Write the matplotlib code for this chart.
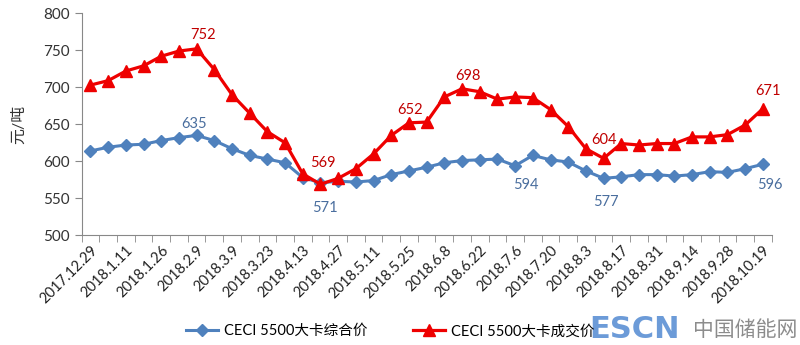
import matplotlib.pyplot as plt
import numpy as np

plt.rcParams['font.family'] = ['Lato', 'Noto Sans CJK SC', 'DejaVu Sans']

# weekly CECI 5500 kcal coal price index, 元/吨
tick_labels = ['2017.12.29', '2018.1.11', '2018.1.26', '2018.2.9', '2018.3.9',
               '2018.3.23', '2018.4.13', '2018.4.27', '2018.5.11', '2018.5.25',
               '2018.6.8', '2018.6.22', '2018.7.6', '2018.7.20', '2018.8.3',
               '2018.8.17', '2018.8.31', '2018.9.14', '2018.9.28', '2018.10.19']
composite = [614, 619, 622, 623, 628, 632, 635, 628, 617, 608, 603, 598, 578,
             571, 573, 572, 574, 582, 587, 592, 598, 601, 602, 603, 594, 608,
             602, 599, 587, 577, 579, 582, 582, 580, 582, 586, 585, 590, 596]
deal = [703, 709, 722, 729, 742, 749, 752, 724, 690, 665, 640, 625, 583,
        569, 577, 590, 610, 635, 652, 653, 687, 698, 694, 684, 687, 686,
        670, 647, 617, 604, 624, 622, 624, 624, 633, 633, 636, 649, 671]

# labelled points: (index, x offset, y offset) in points
deal_notes = [(6, 5, 10), (13, 2, 15), (18, 1, 9), (21, 4, 9), (29, 0, 13), (38, 4, 13)]
comp_notes = [(6, -2, 8), (13, 3, -18), (24, 8, -14), (29, 2, -17), (38, 5, -15)]

blue = '#4F81BD'
red = '#EE0000'

fig = plt.figure(figsize=(8, 3.45), dpi=100)
ax = fig.add_axes([0.102, 0.318, 0.8626, 0.6434])

x = np.arange(len(deal))
ax.plot(x, composite, color=blue, lw=2.2, marker='D', ms=6.5,
        label='CECI 5500大卡综合价')
ax.plot(x, deal, color=red, lw=2.3, marker='^', ms=9,
        label='CECI 5500大卡成交价')

for i, dx, dy in deal_notes:
    ax.annotate(str(deal[i]), (x[i], deal[i]), xytext=(dx, dy),
                textcoords='offset points', ha='center', va='center',
                fontsize=10.5, color='#C00000')
for i, dx, dy in comp_notes:
    ax.annotate(str(composite[i]), (x[i], composite[i]), xytext=(dx, dy),
                textcoords='offset points', ha='center', va='center',
                fontsize=10.5, color='#4A6E9E')

ax.set_xlim(-0.5, len(deal) - 0.5)
ax.set_ylim(500, 800)
ax.set_yticks(np.arange(500, 801, 50))
ax.set_xticks(x[::2])
ax.set_xticklabels(tick_labels, rotation=45, ha='right', rotation_mode='anchor')
ax.set_xticks(np.arange(-0.5, len(deal)), minor=True)
ax.tick_params(axis='x', which='major', length=0, pad=6, labelsize=10.5, labelcolor='#222222')
ax.tick_params(axis='x', which='minor', length=5, color='#888888')
ax.tick_params(axis='y', length=5, color='#888888', labelsize=11, labelcolor='#333333')
for side in ['top', 'right']:
    ax.spines[side].set_visible(False)
for side in ['left', 'bottom']:
    ax.spines[side].set_color('#888888')

ax.set_ylabel('元/吨', fontsize=11.5, color='#333333', labelpad=12)

fig.legend(loc='center', bbox_to_anchor=(0.4875, 0.04), ncol=2, frameon=False,
           fontsize=10.5, columnspacing=3.1, handlelength=2.2, handletextpad=0.4)

# site watermark
fig.text(0.737, 0.045, 'ESCN', fontsize=22, fontweight='bold', color='#6C9BD8',
         va='center', ha='left', family='DejaVu Sans')
fig.text(0.866, 0.045, '中国储能网', fontsize=15, color='#8C8C8C',
         va='center', ha='left', family='Noto Sans CJK SC')

fig.savefig('out.png', dpi=100)
